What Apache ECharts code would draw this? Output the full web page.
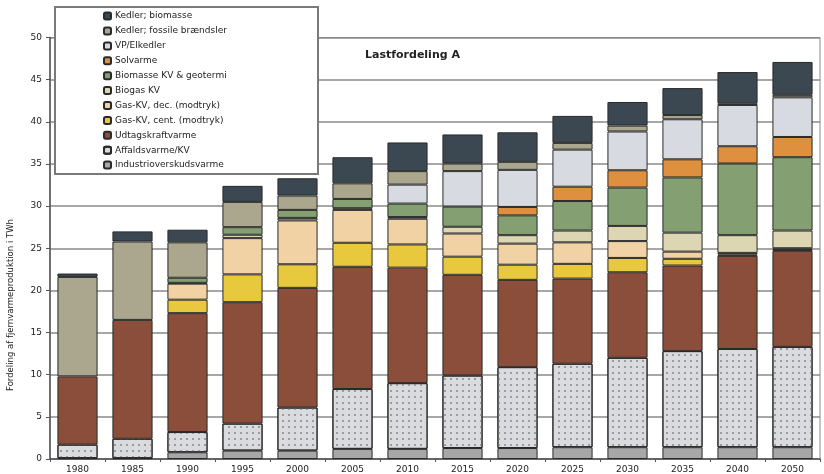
<!DOCTYPE html>
<html>
<head>
<meta charset="utf-8">
<script src="https://cdn.jsdelivr.net/npm/echarts@6/dist/echarts.min.js"></script>
<style>
html,body{margin:0;padding:0;background:#fff;}
#chart{width:824px;height:474px;}
</style>
</head>
<body>
<div id="chart"></div>
<script>
// ---- data (TWh) ----
var years = ['1980','1985','1990','1995','2000','2005','2010','2015','2020','2025','2030','2035','2040','2050'];
var yTicks = [0, 5, 10, 15, 20, 25, 30, 35, 40, 45, 50];

var industri   = [0.1, 0.1, 0.8, 1.0, 1.0, 1.2, 1.2, 1.3, 1.3, 1.4, 1.4, 1.4, 1.4, 1.4];
var affald     = [1.6, 2.3, 2.4, 3.2, 5.1, 7.1, 7.8, 8.6, 9.6, 9.9, 10.6, 11.4, 11.65, 11.9];
var udtag      = [8.1, 14.1, 14.1, 14.4, 14.2, 14.5, 13.7, 11.95, 10.35, 10.1, 10.15, 10.15, 11.05, 11.4];
var gasCent    = [0, 0, 1.6, 3.3, 2.8, 2.85, 2.75, 2.15, 1.8, 1.75, 1.7, 0.8, 0.15, 0.1];
var gasDec     = [0, 0, 1.9, 4.3, 5.2, 3.9, 3.05, 2.75, 2.5, 2.55, 2.0, 0.85, 0.2, 0.2];
var biogas     = [0, 0, 0.1, 0.4, 0.3, 0.2, 0.2, 0.8, 1.0, 1.4, 1.8, 2.25, 2.1, 2.1];
var biomasseKV = [0, 0, 0.6, 0.9, 0.95, 1.1, 1.6, 2.4, 2.35, 3.5, 4.55, 6.55, 8.5, 8.7];
var solvarme   = [0, 0, 0, 0, 0, 0, 0, 0, 1.0, 1.7, 2.05, 2.15, 2.05, 2.4];
var vpElkedler = [0, 0, 0, 0, 0, 0, 2.25, 4.2, 4.4, 4.4, 4.6, 4.75, 4.9, 4.7];
var kedlerFos  = [11.8, 9.3, 4.2, 3.0, 1.7, 1.85, 1.6, 0.9, 0.95, 0.8, 0.7, 0.5, 0.2, 0.3];
var kedlerBio  = [0.4, 1.2, 1.5, 1.9, 2.05, 3.1, 3.4, 3.45, 3.5, 3.2, 2.8, 3.2, 3.7, 3.9];

var seriesNames = ['Industrioverskudsvarme','Affaldsvarme/KV','Udtagskraftvarme','Gas-KV, cent. (modtryk)','Gas-KV, dec. (modtryk)','Biogas KV','Biomasse KV & geotermi','Solvarme','VP/Elkedler','Kedler; fossile brændsler','Kedler; biomasse'];
var seriesData = [industri, affald, udtag, gasCent, gasDec, biogas, biomasseKV, solvarme, vpElkedler, kedlerFos, kedlerBio];
var seriesColors = ['#a7a7a7','#dadbdf','#8b4e3a','#e8c83c','#f1d2a5','#ddd6b3','#84a072','#df903f','#d7dbe1','#aaa78e','#3b4852'];

var FONT = 'DejaVu Sans';

var series = seriesNames.map(function(name, i){
  var s = {
    name: name,
    type: 'bar',
    stack: 'total',
    barWidth: '73%',
    data: seriesData[i].map(function(v){ return v === 0 ? '-' : v; }),
    itemStyle: { color: seriesColors[i], borderColor: '#2a2a2a', borderWidth: 1 }
  };
  if (i === 1) {
    s.itemStyle.decal = { symbol: 'rect', symbolSize: 1, color: '#9c9ca2', dashArrayX: [1.5, 4], dashArrayY: [1.5, 3.5] };
  }
  return s;
});

var chart = echarts.init(document.getElementById('chart'), null, {renderer: 'canvas'});
chart.setOption({
  animation: false,
  backgroundColor: '#ffffff',
  textStyle: { fontFamily: FONT },
  title: {
    text: 'Lastfordeling A',
    left: 360, top: 45,
    textStyle: { fontFamily: FONT, fontSize: 11, fontWeight: 'bold', color: '#222' }
  },
  grid: {
    left: 50, right: 4, top: 37.5, bottom: 14.5,
    show: true, borderColor: '#8a8a8a', borderWidth: 1
  },
  legend: {
    orient: 'vertical',
    left: 103, top: 11,
    padding: 0,
    itemWidth: 7, itemHeight: 7, itemGap: 4.7,
    data: seriesNames.slice().reverse(),
    textStyle: { fontFamily: FONT, fontSize: 9, color: '#222', lineHeight: 10.2, padding: [0,0,0,-1] },
    z: 6
  },
  graphic: [
    { type: 'rect', z: 5, shape: { x: 55, y: 7, width: 263, height: 167 },
      style: { fill: '#ffffff', stroke: '#7a7a7a', lineWidth: 2 } },
    { type: 'text', z: 5, x: 11, y: 305, rotation: Math.PI / 2,
      style: { text: 'Fordeling af fjernvarmeproduktion i TWh', fill: '#222', font: '8.5px "DejaVu Sans"', align: 'center', verticalAlign: 'middle' } }
  ],
  xAxis: {
    type: 'category',
    data: years,
    axisLine: { lineStyle: { color: '#555', width: 1.5 } },
    axisTick: { show: true, alignWithLabel: false, length: 3, lineStyle: { color: '#555' } },
    axisLabel: { fontFamily: FONT, fontSize: 9, color: '#222', margin: 6 }
  },
  yAxis: {
    type: 'value',
    min: yTicks[0], max: yTicks[yTicks.length - 1], interval: yTicks[1] - yTicks[0],
    axisLine: { show: true, lineStyle: { color: '#555', width: 1.5 } },
    axisTick: { show: true, length: 4, lineStyle: { color: '#555' } },
    axisLabel: { fontFamily: FONT, fontSize: 9, color: '#222', margin: 8 },
    splitLine: { lineStyle: { color: '#8a8a8a', width: 1.5 } }
  },
  series: series
});
</script>
</body>
</html>
